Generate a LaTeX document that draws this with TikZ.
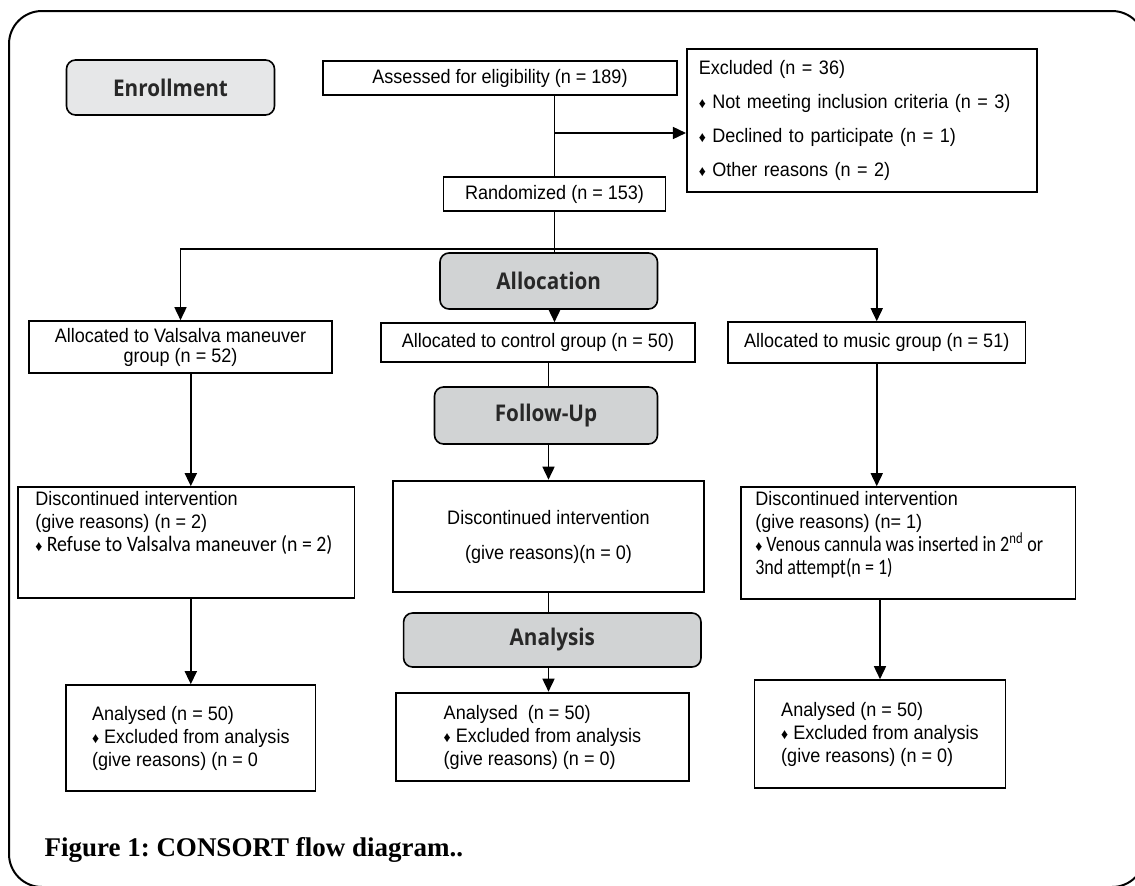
\documentclass[tikz,border=0pt]{standalone}
\usepackage{fontspec}
\setmainfont{Liberation Sans}[FakeStretch=0.925]
\newfontfamily\headfont{Open Sans}[FakeStretch=0.9]
\newfontfamily\narrowfont{Carlito}[FakeStretch=0.82]
\newfontfamily\refusefont{Carlito}[FakeStretch=0.9]
\newfontfamily\capfont{Liberation Serif}
\usetikzlibrary{arrows.meta,backgrounds}
\definecolor{headgray}{RGB}{209,211,212}
\definecolor{enrolgray}{RGB}{230,231,232}
\definecolor{headtext}{RGB}{40,40,40}
\newcommand\dmd{{\normalfont\fontsize{15}{23}\selectfont ♦}}

\begin{document}
\begin{tikzpicture}[
    x=1pt, y=-1pt,
    box/.style={rectangle, draw, line width=1.6pt, inner sep=0pt, font=\fontsize{19.5}{23}\selectfont},
    thickbox/.style={box, line width=2.6pt},
    phase/.style={rectangle, draw, line width=1.6pt, rounded corners=9pt, fill=headgray, text=headtext, font=\headfont\bfseries\fontsize{23}{26}\selectfont},
    arr/.style={-{Triangle[length=13pt,width=12pt]}, line width=1.6pt},
    link/.style={line width=1.6pt}
]
\useasboundingbox (0,0) rectangle (1135,886);

\draw[line width=2pt, rounded corners=33pt] (9,11) rectangle (1145,887);

\node[phase, fill=enrolgray, minimum width=208pt, minimum height=55pt] (enrol) at (170.5,87.5) {Enrollment};

\node[box, minimum width=354pt, minimum height=34pt] (assess) at (500,78) {Assessed for eligibility (n = 189)};

\node[box, align=left, text width=326pt, inner xsep=12pt, minimum height=143pt, font=\fontsize{19.5}{34}\selectfont] (excl) at (861.75,120.5) {
    Excluded (n = 36)\\
    \dmd{} Not meeting inclusion criteria (n = 3)\\
    \dmd{} Declined to participate (n = 1)\\
    \dmd{} Other reasons (n = 2)};

\node[box, minimum width=222pt, minimum height=34pt] (rand) at (554.5,194) {Randomized (n = 153)};

\node[phase, minimum width=217.5pt, minimum height=56pt] (alloc) at (548.75,281) {Allocation};

\node[box, align=center, minimum width=303pt, minimum height=52pt, font=\fontsize{19.5}{20}\selectfont] (valalloc) at (180.5,347) {Allocated to Valsalva maneuver\\group (n = 52)};
\node[box, minimum width=314pt, minimum height=39pt] (ctrl) at (538,342.5) {Allocated to control group (n = 50)};
\node[box, minimum width=297.5pt, minimum height=41pt] (music) at (876.75,342.5) {Allocated to music group (n = 51)};

\node[phase, minimum width=223pt, minimum height=57pt] (fup) at (546,415.5) {Follow-Up};

\node[box, minimum width=336.5pt, minimum height=111pt] (valdisc) at (186.25,542.5) {
    \begin{minipage}[c][111pt][t]{302pt}
    \vspace*{2pt}
    \strut Discontinued intervention\\
    (give reasons) (n = 2)\\
    {\refusefont\fontsize{22}{23}\selectfont \dmd{} Refuse to Valsalva maneuver (n = 2)}
    \end{minipage}};
\node[thickbox, align=center, minimum width=311pt, minimum height=111pt, font=\fontsize{19.5}{35}\selectfont] (ctrldisc) at (548.5,536.5) {Discontinued intervention\\(give reasons)(n = 0)};
\node[box, minimum width=334.6pt, minimum height=112pt] (musdisc) at (908.3,543) {
    \begin{minipage}[c][112pt][t]{306pt}
    \vspace*{2pt}
    \strut Discontinued intervention\\
    (give reasons) (n= 1)\\
    {\narrowfont\fontsize{22}{23}\selectfont \dmd{} Venous cannula was inserted in 2\textsuperscript{nd} or\\
    3nd attempt(n = 1)}
    \end{minipage}};

\node[phase, minimum width=297.4pt, minimum height=54pt] (analysis) at (552.3,640) {Analysis};

\node[box, align=left, minimum width=249.6pt, minimum height=106pt] (valan) at (190.8,738) {
    Analysed (n = 50)\\
    \dmd{} Excluded from analysis\\
    (give reasons) (n = 0};
\node[thickbox, align=left, minimum width=293pt, minimum height=88pt] (ctrlan) at (542.5,737) {
    Analysed\ \ (n = 50)\\
    \dmd{} Excluded from analysis\\
    (give reasons) (n = 0)};
\node[box, align=left, minimum width=251pt, minimum height=108pt] (musan) at (880,734) {
    Analysed (n = 50)\\
    \dmd{} Excluded from analysis\\
    (give reasons) (n = 0)};

\node[anchor=west, font=\capfont\bfseries\fontsize{27}{30}\selectfont\frenchspacing] (caption) at (41,850) {Figure 1: CONSORT flow diagram..};

\begin{scope}[on background layer]
\coordinate (excljoin) at (rand.north |- 0,133);
\coordinate (branch) at (rand.south |- 0,249);
\draw[link] (rand.north |- assess.south) -- (rand.north);
\draw[arr] (excljoin) -- (excljoin -| excl.west);
\draw[arr] (rand.south) -- (rand.south |- ctrl.north);
\draw[arr] (branch) -| (valalloc.north);
\draw[arr] (branch) -| (music.north);
\draw[arr] (ctrldisc.north |- ctrl.south) -- (ctrldisc.north);
\draw[arr] (ctrldisc.south) -- (ctrldisc.south |- ctrlan.north);
\draw[arr] (valan.north |- valalloc.south) -- (valan.north |- valdisc.north);
\draw[arr] (valan.north |- valdisc.south) -- (valan.north);
\draw[arr] (music.south) -- (music.south |- musdisc.north);
\draw[arr] (musan.north |- musdisc.south) -- (musan.north);
\end{scope}

\end{tikzpicture}
\end{document}
